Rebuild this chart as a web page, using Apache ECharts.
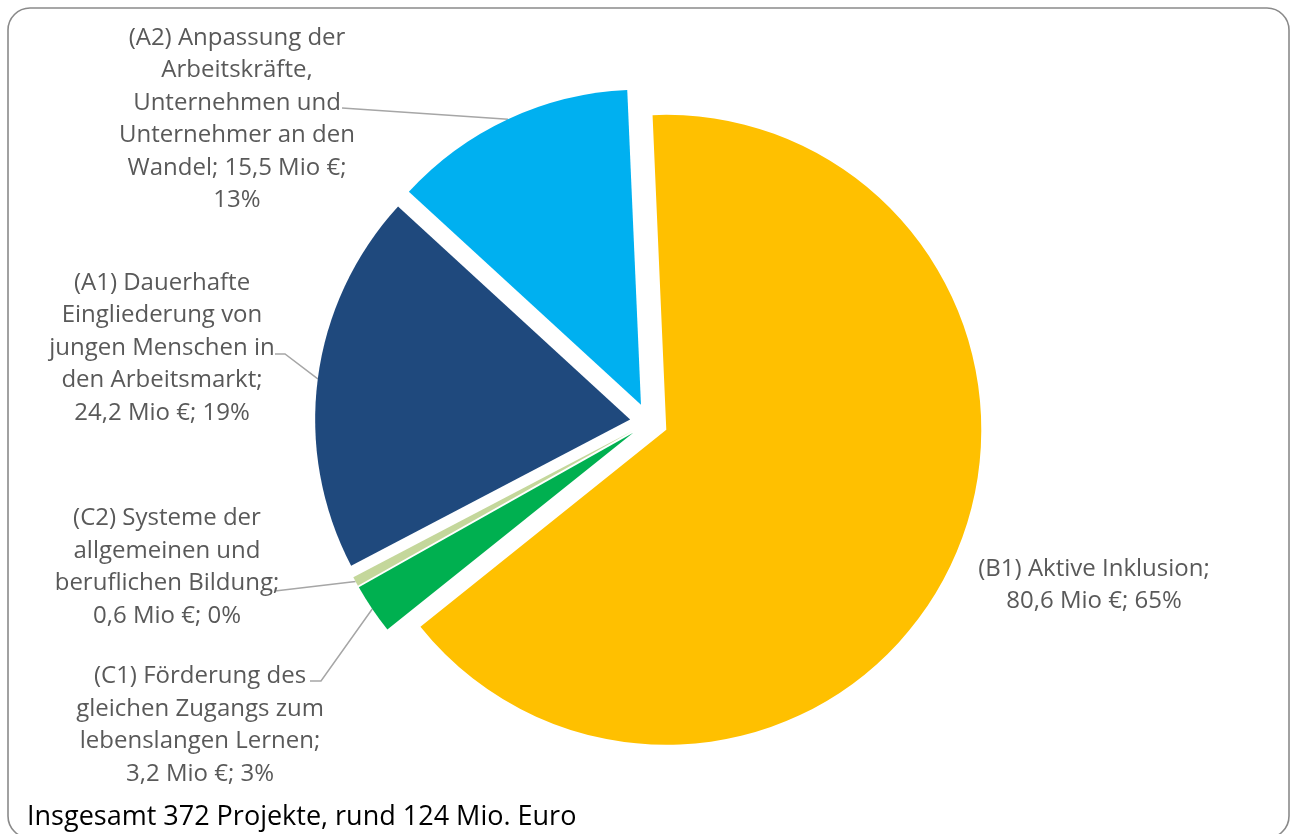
<!DOCTYPE html>
<html><head><meta charset="utf-8">
<script src="https://cdn.jsdelivr.net/npm/echarts@6/dist/echarts.min.js"></script>
<style>html,body{margin:0;padding:0;background:#fff}#c{width:1290px;height:834px}</style>
</head><body><div id="c"></div>
<script>
const categories = [
  '(B1) Aktive Inklusion',
  '(C1) Förderung des gleichen Zugangs zum lebenslangen Lernen',
  '(C2) Systeme der allgemeinen und beruflichen Bildung',
  '(A1) Dauerhafte Eingliederung von jungen Menschen in den Arbeitsmarkt',
  '(A2) Anpassung der Arbeitskräfte, Unternehmen und Unternehmer an den Wandel'
];
const values = [80.6, 3.2, 0.6, 24.2, 15.5];
const percents = [65, 3, 0, 19, 13];
const labelTemplates = [
  '(B1) Aktive Inklusion;\n{v} Mio €; {p}%',
  '(C1) Förderung des\ngleichen Zugangs zum\nlebenslangen Lernen;\n{v} Mio €; {p}%',
  '(C2) Systeme der\nallgemeinen und\nberuflichen Bildung;\n{v} Mio €; {p}%',
  '(A1) Dauerhafte\nEingliederung von\njungen Menschen in\nden Arbeitsmarkt;\n{v} Mio €; {p}%',
  '(A2) Anpassung der\nArbeitskräfte,\nUnternehmen und\nUnternehmer an den\nWandel; {v} Mio €;\n{p}%'
];
const colors = ['#FFC000', '#00B050', '#C4D79B', '#1F497D', '#00B0F0'];
const footnote = 'Insgesamt 372 Projekte, rund 124 Mio. Euro';

// pie geometry
const CENTER = [649, 422];
const RADIUS = 315;
const EXPLODE = 19;

// label placement (block centres) and leader-line anchor/elbow points
const labelPos = [
  { x: 1094, y: 585 },
  { x: 200, y: 725, anchor: [310, 681], elbow: [321, 681] },
  { x: 167, y: 567, anchor: [275, 591] },
  { x: 162, y: 348, anchor: [275, 354], elbow: [285, 354] },
  { x: 237, y: 119, anchor: [342, 108] }
];

const fmt = v => v.toFixed(1).replace('.', ',');

const chart = echarts.init(document.getElementById('c'), null, { renderer: 'canvas' });
chart.setOption({
  animation: false,
  graphic: [
    { type: 'rect', z: 0, silent: true,
      shape: { x: 8, y: 8, width: 1281, height: 830, r: 22 },
      style: { fill: 'none', stroke: '#8a8a8a', lineWidth: 1.6 } },
    { type: 'text', z: 10, silent: true, left: 27, top: 804,
      style: { text: footnote, fill: '#000000', font: '27px "Open Sans"' } }
  ],
  series: [{
    // exploded slices
    type: 'pie',
    center: CENTER,
    radius: RADIUS,
    startAngle: 92.5,
    clockwise: true,
    selectedMode: 'multiple',
    selectedOffset: EXPLODE,
    emphasis: { disabled: true },
    itemStyle: { borderWidth: 0 },
    label: { show: false },
    labelLine: { show: false },
    data: categories.map((c, i) => ({
      name: c,
      value: values[i],
      selected: true,
      itemStyle: { color: colors[i] }
    }))
  }, {
    // label layer (same layout, invisible sectors)
    type: 'pie',
    silent: true,
    center: CENTER,
    radius: RADIUS,
    startAngle: 92.5,
    clockwise: true,
    selectedMode: false,
    emphasis: { disabled: true },
    itemStyle: { color: 'rgba(0,0,0,0)', borderWidth: 0 },
    label: {
      show: true,
      position: 'outside',
      color: '#595959',
      fontFamily: 'Open Sans',
      fontSize: 24,
      lineHeight: 32.5,
      align: 'center',
      formatter: p => labelTemplates[p.dataIndex]
        .replace('{v}', fmt(values[p.dataIndex]))
        .replace('{p}', percents[p.dataIndex])
    },
    labelLine: { show: true, lineStyle: { color: '#A6A6A6', width: 1.5 } },
    labelLayout: function (params) {
      const p = labelPos[params.dataIndex];
      const res = { x: p.x, y: p.y, align: 'center', verticalAlign: 'middle' };
      if (p.anchor && params.labelLinePoints) {
        const e = params.labelLinePoints[0];
        const vx = e[0] - CENTER[0], vy = e[1] - CENTER[1];
        const len = Math.hypot(vx, vy) || 1;
        const edge = [e[0] + vx / len * EXPLODE, e[1] + vy / len * EXPLODE];
        const mid = p.elbow || p.anchor;
        res.labelLinePoints = [edge, mid, p.anchor];
      }
      return res;
    },
    data: categories.map((c, i) => ({
      name: c,
      value: values[i],
      labelLine: { show: i !== 0 }
    }))
  }]
});
</script>
</body></html>
